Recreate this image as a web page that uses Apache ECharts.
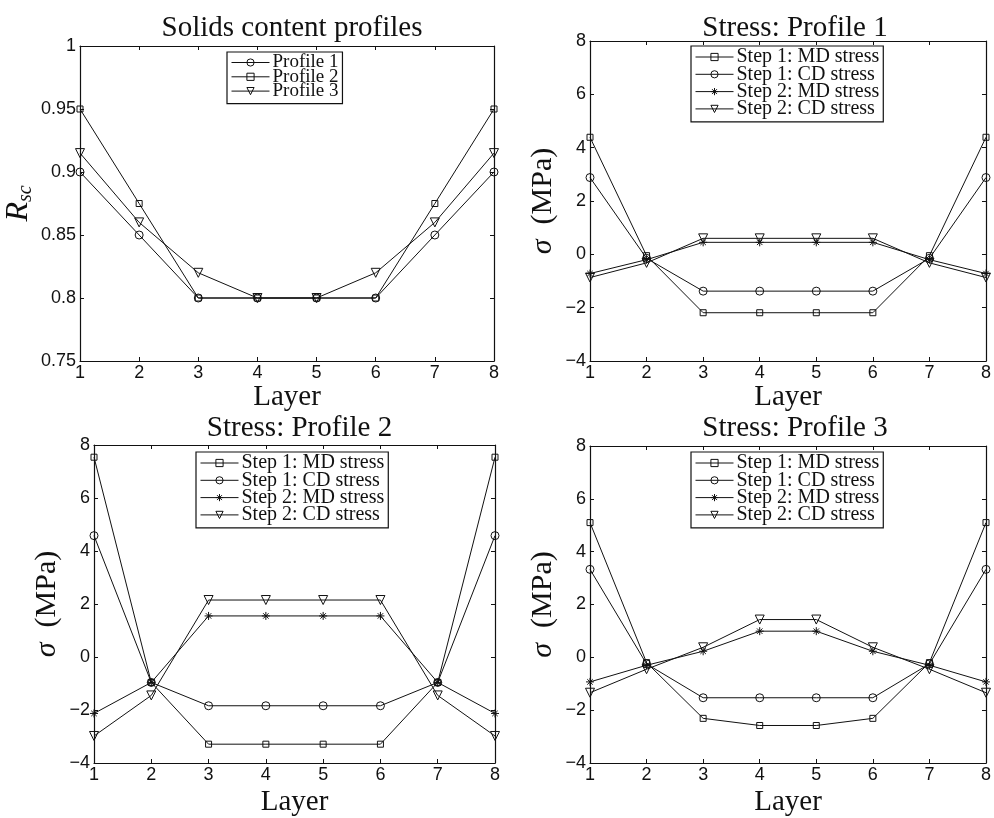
<!DOCTYPE html>
<html><head><meta charset="utf-8">
<script src="https://cdn.jsdelivr.net/npm/echarts@6/dist/echarts.min.js"></script>
<style>html,body{margin:0;padding:0;background:#fff}#c{width:994px;height:818px}</style>
</head><body><div id="c"></div>
<script>
// ---------- data ----------
const layers = [1, 2, 3, 4, 5, 6, 7, 8];
const xTicks = [1, 2, 3, 4, 5, 6, 7, 8];
const rscTicks = [0.75, 0.8, 0.85, 0.9, 0.95, 1];
const stressTicks = [-4, -2, 0, 2, 4, 6, 8];

const titles = ['Solids content profiles', 'Stress: Profile 1', 'Stress: Profile 2', 'Stress: Profile 3'];
const solidsNames = ['Profile 1', 'Profile 2', 'Profile 3'];
const stressNames = ['Step 1: MD stress', 'Step 1: CD stress', 'Step 2: MD stress', 'Step 2: CD stress'];

const solidsP1 = [0.9, 0.85, 0.8, 0.8, 0.8, 0.8, 0.85, 0.9];
const solidsP2 = [0.95, 0.875, 0.8, 0.8, 0.8, 0.8, 0.875, 0.95];
const solidsP3 = [0.915, 0.86, 0.82, 0.8, 0.8, 0.82, 0.86, 0.915];

const p1MD1 = [4.39, -0.05, -2.19, -2.19, -2.19, -2.19, -0.05, 4.39];
const p1CD1 = [2.88, -0.15, -1.38, -1.38, -1.38, -1.38, -0.15, 2.88];
const p1MD2 = [-0.72, -0.2, 0.45, 0.45, 0.45, 0.45, -0.2, -0.72];
const p1CD2 = [-0.87, -0.32, 0.6, 0.6, 0.6, 0.6, -0.32, -0.87];

const p2MD1 = [7.54, -0.96, -3.29, -3.29, -3.29, -3.29, -0.96, 7.54];
const p2CD1 = [4.58, -0.96, -1.84, -1.84, -1.84, -1.84, -0.96, 4.58];
const p2MD2 = [-2.13, -0.96, 1.55, 1.55, 1.55, 1.55, -0.96, -2.13];
const p2CD2 = [-2.98, -1.45, 2.15, 2.15, 2.15, 2.15, -1.45, -2.98];

const p3MD1 = [5.1, -0.2, -2.31, -2.58, -2.58, -2.31, -0.2, 5.1];
const p3CD1 = [3.33, -0.25, -1.53, -1.53, -1.53, -1.53, -0.25, 3.33];
const p3MD2 = [-0.93, -0.3, 0.23, 0.99, 0.99, 0.23, -0.3, -0.93];
const p3CD2 = [-1.34, -0.45, 0.38, 1.43, 1.43, 0.38, -0.45, -1.34];

// ---------- styling / layout ----------
const SERIF = '"Liberation Serif", "Times New Roman", serif';
const SANS = '"Liberation Sans", Arial, sans-serif';
const grids = [
  {left: 80, top: 46, width: 414, height: 315, titleTop: 9},
  {left: 590, top: 41, width: 400, height: 320, titleTop: 9},
  {left: 94, top: 445, width: 401, height: 321, titleTop: 409},
  {left: 590, top: 446, width: 400, height: 320, titleTop: 409}
];
const STAR = 'path://M0,5L10,5M5,0L5,10M1.6,1.6L8.4,8.4M8.4,1.6L1.6,8.4';
const markers = {
  circle: {symbol: 'circle', size: 8, rot: 0},
  square: {symbol: 'rect', size: 6, rot: 0},
  tri: {symbol: 'triangle', size: 9, rot: 180},
  star: {symbol: STAR, size: 8, rot: 0}
};

function fmt(v) { return String(v).replace('-', '\u2212'); }

const option = {
  animation: false,
  backgroundColor: '#fff',
  title: [], grid: [], xAxis: [], yAxis: [], legend: [], series: []
};

function addPanel(i, ticks, yName, names, datas, marks, legendPos, legendFont, legendGap) {
  const g = grids[i];
  option.grid.push({left: g.left, top: g.top, width: g.width, height: g.height, containLabel: false});
  const cx = g.left + g.width / 2;
  option.title.push({
    text: titles[i], left: cx, top: g.titleTop, textAlign: 'center',
    textStyle: {fontFamily: SERIF, fontSize: 29, fontWeight: 'normal', color: '#111'}
  });
  const common = {
    type: 'value', gridIndex: i, splitLine: {show: false},
    axisLine: {show: true, onZero: false, lineStyle: {color: '#111', width: 1.2}},
    axisTick: {show: true, inside: true, length: 4, lineStyle: {color: '#111'}}
  };
  const xmin = xTicks[0], xmax = xTicks[xTicks.length - 1];
  const ymin = ticks[0], ymax = ticks[ticks.length - 1];
  const yint = +(ticks[1] - ticks[0]).toFixed(4);
  option.xAxis.push(Object.assign({}, common, {
    position: 'bottom', min: xmin, max: xmax, interval: 1,
    axisLabel: {fontFamily: SANS, fontSize: 18, color: '#111', margin: 3, formatter: fmt},
    name: 'Layer', nameLocation: 'middle', nameGap: i < 2 ? 18 : 25,
    nameTextStyle: {fontFamily: SERIF, fontSize: 29, color: '#111'}
  }));
  option.xAxis.push(Object.assign({}, common, {
    position: 'top', min: xmin, max: xmax, interval: 1, axisLabel: {show: false}
  }));
  option.yAxis.push(Object.assign({}, common, {
    position: 'left', min: ymin, max: ymax, interval: yint,
    axisLabel: {fontFamily: SANS, fontSize: 18, color: '#111', margin: 4, formatter: fmt},
    name: yName, nameLocation: 'middle', nameRotate: 90, nameGap: i === 0 ? 44 : 32,
    nameTextStyle: {
      fontFamily: SERIF, fontSize: 30, color: '#111',
      rich: {
        r: {fontFamily: SERIF, fontStyle: 'italic', fontSize: 32, color: '#111'},
        s: {fontFamily: SERIF, fontStyle: 'italic', fontSize: 20, color: '#111', padding: [14, 0, 0, 0]},
        g: {fontFamily: SERIF, fontStyle: 'italic', fontSize: 30, color: '#111'},
        m: {fontFamily: SERIF, fontSize: 30, color: '#111'}
      }
    }
  }));
  option.yAxis.push(Object.assign({}, common, {
    position: 'right', min: ymin, max: ymax, interval: yint, axisLabel: {show: false}
  }));
  names.forEach((nm, k) => {
    const mk = markers[marks[k]];
    option.series.push({
      type: 'line', name: nm, xAxisIndex: 2 * i, yAxisIndex: 2 * i,
      data: layers.map((l, j) => [l, datas[k][j]]),
      symbol: mk.symbol, symbolSize: mk.size, symbolRotate: mk.rot, showAllSymbol: true,
      lineStyle: {color: '#111', width: 1},
      itemStyle: {color: 'rgba(255,255,255,0)', borderColor: '#111', borderWidth: 1},
      emphasis: {disabled: true}
    });
  });
  option.legend.push({
    orient: 'vertical', left: legendPos[0], top: legendPos[1],
    data: names, itemWidth: 38, itemHeight: 9, itemGap: legendGap,
    padding: [1, 4, 3, 4],
    backgroundColor: '#fff', borderColor: '#111', borderWidth: 1.2, borderRadius: 0,
    selectedMode: false,
    itemStyle: {color: 'rgba(255,255,255,0)', borderColor: '#111', borderWidth: 1},
    lineStyle: {color: '#111', width: 1},
    textStyle: {fontFamily: SERIF, fontSize: legendFont, color: '#111', padding: [0, 0, 0, -2]}
  });
}

addPanel(0, rscTicks, '{r|R}{s|sc}', solidsNames, [solidsP1, solidsP2, solidsP3], ['circle', 'square', 'tri'], [227, 52], 19, -4.7);
addPanel(1, stressTicks, '{g|σ}{m|  (MPa)}', stressNames, [p1MD1, p1CD1, p1MD2, p1CD2], ['square', 'circle', 'star', 'tri'], [691, 46], 20, -2.7);
addPanel(2, stressTicks, '{g|σ}{m|  (MPa)}', stressNames, [p2MD1, p2CD1, p2MD2, p2CD2], ['square', 'circle', 'star', 'tri'], [196, 452], 20, -2.7);
addPanel(3, stressTicks, '{g|σ}{m|  (MPa)}', stressNames, [p3MD1, p3CD1, p3MD2, p3CD2], ['square', 'circle', 'star', 'tri'], [691, 452], 20, -2.7);

const chart = echarts.init(document.getElementById('c'), null, {renderer: 'canvas'});
chart.setOption(option);
</script>
</body></html>
